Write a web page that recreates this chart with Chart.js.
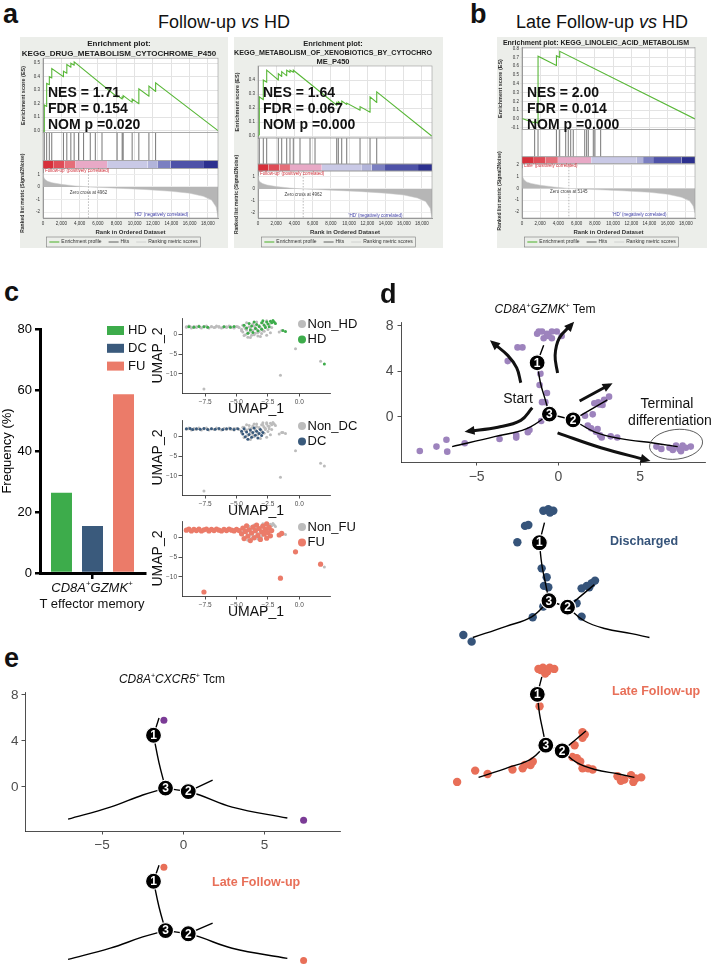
<!DOCTYPE html>
<html>
<head>
<meta charset="utf-8">
<script src="https://cdn.jsdelivr.net/npm/chart.js@4.4.1/dist/chart.umd.min.js"></script>
<style>
  body { margin:0; width:720px; height:974px; position:relative; overflow:hidden; background:#fff;
         font-family:"Liberation Sans", Arial, Helvetica, sans-serif; color:#111; }
  canvas { position:absolute; }
  .t { position:absolute; white-space:nowrap; }
  .c { transform:translateX(-50%); }
  .t sup { font-size:0.6em; line-height:0; vertical-align:0.75em; font-style:normal; }
</style>
</head>
<body>
<script>
// ---------- a / b : GSEA enrichment plots ----------
// running enrichment score, [rank, ES]
const esDrug = [[0,0],[143,-0.005],[145,0.19],[400,0.18],[402,0.35],[690,0.34],[692,0.40],[955,0.39],[957,0.46],
  [2230,0.40],[2232,0.44],[2600,0.425],[2602,0.49],[3040,0.47],[3042,0.50],[3400,0.485],[3402,0.51],
  [8090,0.25],[8092,0.26],[8640,0.235],[8642,0.25],[8750,0.245],[8752,0.26],[9730,0.21],[9732,0.235],
  [10460,0.2],[10462,0.31],[11560,0.255],[11562,0.33],[12290,0.29],[12292,0.355],[19100,0]];
const hitsDrug = [143,400,690,955,2230,2600,3040,3400,3880,4430,5160,5710,6440,8090,8640,8750,9730,10460,11560,12290];
const esXeno = [[0,0],[140,0.01],[143,0.28],[580,0.26],[582,0.40],[950,0.385],[955,0.47],[2225,0.40],[2229,0.445],
  [2600,0.425],[2602,0.46],[3150,0.43],[3151,0.47],[3510,0.455],[3514,0.47],[3876,0.455],[3880,0.47],
  [8641,0.22],[8645,0.24],[8817,0.23],[8820,0.245],[9190,0.225],[9195,0.25],[9739,0.225],[9742,0.235],
  [11200,0.185],[11203,0.21],[12298,0.17],[12300,0.28],[13030,0.24],[13033,0.316],[19070,0]];
const hitsXeno = [143,582,955,2229,2602,3151,3514,3876,4612,5710,6259,8641,8817,9190,9739,11200,12298,13033];
const esLino = [[0,0.005],[1390,-0.045],[1392,-0.03],[1760,-0.05],[1762,0.715],[3780,0.61],[3782,0.72],
  [4140,0.70],[4142,0.77],[19000,0]];
const hitsLino = [1390,1760,3780,4140,4800,5080,5350,5630,6890,7100,7280,7830,8010,8640];
// ranked list metric (Signal2Noise), [rank, value]
const rankFU = [[0,1.1],[60,0.8],[200,0.6],[500,0.45],[1000,0.33],[2000,0.2],[3500,0.08],[4962,0],[8000,-0.1],
  [11000,-0.2],[14000,-0.35],[16000,-0.5],[17500,-0.75],[18400,-1.05],[18900,-1.6],[19100,-2.45]];
const rankLate = [[0,1.7],[60,1.0],[200,0.75],[500,0.55],[1000,0.42],[2000,0.27],[3500,0.12],[5145,0],[8000,-0.1],
  [11000,-0.2],[14000,-0.33],[16000,-0.5],[17500,-0.75],[18400,-1.05],[18800,-1.5],[19000,-2.1]];
// colour bar segment edges (rank)
const edgesFU = [0,1170,2340,3510,7000,11400,12480,13940,17570,19100];
const edgesLate = [0,1300,2600,3940,7600,12560,13300,14400,17500,19000];
// tick labels
const rankTicks = [0,2000,4000,6000,8000,10000,12000,14000,16000,18000];
const esTicksDrug = [0,0.1,0.2,0.3,0.4,0.5];
const esTicksXeno = [0,0.1,0.2,0.3,0.4];
const esTicksLino = [-0.1,0,0.1,0.2,0.3,0.4,0.5,0.6,0.7,0.8];
const metricTicksFU = [-2,-1,0,1];
const metricTicksLate = [-2,-1,0,1,2];
const statsDrug = ['NES = 1.71','FDR = 0.154','NOM p =0.020'];
const statsXeno = ['NES = 1.64','FDR = 0.067','NOM p =0.000'];
const statsLino = ['NES = 2.00','FDR = 0.014','NOM p =0.000'];

// ---------- c ----------
const groups = ['HD','DC','FU'];
const temFreq = [26.3, 15.4, 58.6];
const umapHD = [[-8.8,1.8],[-8.4,1.7],[-8.0,1.9],[-7.6,1.8],[-7.3,1.7],[-6.0,1.8],[-5.5,1.7],[-5.2,1.9],[-4.4,2.2],
  [-4.2,1.5],[-4.0,2.6],[-3.9,1.0],[-3.8,2.0],[-3.6,3.0],[-3.5,1.4],[-3.4,2.4],[-3.3,0.8],[-3.2,1.9],[-3.0,2.8],
  [-3.0,1.2],[-2.9,3.3],[-2.8,2.2],[-2.7,1.6],[-2.6,3.0],[-2.5,2.5],[-2.4,1.8],[-2.3,3.2],[-2.2,2.8],[-2.1,3.4],
  [-2.0,3.0],[-1.9,2.6],[-3.7,0.4],[-4.1,0.2],[-1.3,0.9],[-1.1,0.6],[2.0,-7.5]];
const umapDC = [[-9.0,1.8],[-8.7,1.9],[-8.5,1.6],[-8.2,1.8],[-7.9,1.7],[-7.6,1.9],[-7.3,1.6],[-7.0,1.8],[-6.7,1.7],
  [-6.4,1.9],[-6.1,1.6],[-5.8,1.8],[-5.5,1.9],[-5.2,1.6],[-4.9,1.8],[-4.6,1.2],[-4.5,0.5],[-4.4,1.8],[-4.3,-0.2],
  [-4.2,1.0],[-4.1,-0.8],[-4.0,0.4],[-3.9,1.5],[-3.8,-0.3],[-3.7,0.9],[-3.6,2.0],[-3.5,0.2],[-3.4,1.2],[-3.3,-0.5],
  [-3.2,0.6],[-3.1,1.6],[-3.0,0.1],[-2.9,0.9]];
const umapFU = [[-9.0,1.7],[-8.8,2.0],[-8.6,1.5],[-8.4,1.9],[-8.2,1.6],[-8.0,2.0],[-7.8,1.5],[-7.6,1.8],[-7.4,2.0],
  [-7.2,1.5],[-7.0,1.9],[-6.8,1.6],[-6.6,2.0],[-6.4,1.7],[-6.2,1.5],[-6.0,1.9],[-5.8,1.6],[-5.6,2.0],[-5.4,1.7],
  [-5.2,1.5],[-5.0,1.9],[-4.8,1.6],[-4.6,0.8],[-4.5,2.2],[-4.4,-0.4],[-4.3,1.4],[-4.2,2.8],[-4.1,0.2],[-4.0,1.8],
  [-3.9,-0.9],[-3.8,1.0],[-3.7,2.5],[-3.6,-0.2],[-3.5,1.6],[-3.4,3.0],[-3.3,0.4],[-3.2,2.1],[-3.1,-0.6],[-3.0,1.3],
  [-2.9,2.7],[-2.8,0.7],[-2.7,1.9],[-2.6,3.3],[-2.5,1.1],[-2.4,2.4],[-2.3,0.3],[-2.2,1.6],[-2.6,-0.3],[-1.6,0.5],
  [-1.4,0.9],[-7.6,-13.75],[-1.5,-10.3],[-0.3,-3.7],[1.7,-6.8]];

// ---------- d : CD8A+GZMK+ Tem trajectory ----------
const nodeLabels = ['1','3','2'];
const temNodes = [[-1.3,4.75],[-0.55,0.25],[0.9,-0.25]];
const temBranches = [
  [[-0.9,6.3],[-1.3,4.75]],
  [[-1.3,4.75],[-1.1,3.0],[-0.8,1.5],[-0.55,0.25]],
  [[-0.55,0.25],[-1.9,-1.0],[-3.9,-1.73],[-6.5,-2.6]],
  [[-0.55,0.25],[0.9,-0.25]],
  [[0.9,-0.25],[3.0,1.5]],
  [[0.9,-0.25],[2.2,-1.3],[3.8,-1.9],[5.9,-2.3],[7.3,-2.6]]];
const temArrows = [
  [[-2.3,3.0],[-2.55,4.3],[-3.1,5.4],[-4.0,6.5]],
  [[-0.05,3.85],[-0.2,5.4],[0.05,6.9],[0.8,8.1]],
  [[1.3,1.4],[3.1,2.8]],
  [[-1.6,0.8],[-2.3,-0.3],[-3.7,-0.9],[-5.5,-1.25]],
  [[-0.05,-1.4],[2.6,-2.7],[5.4,-3.77]]];
const temCells = [[-1.3,7.3],[-1.0,7.5],[-0.7,7.3],[-0.4,7.5],[-0.4,6.9],[-0.9,6.9],[0.2,7.1],[-0.1,7.5],[-1.2,7.5],
  [-0.6,7.1],[-2.5,6.1],[-2.2,6.1],[-3.1,4.9],[-1.1,3.8],[-1.15,2.8],[-0.7,2.1],[-1.0,1.3],[-0.8,1.3],[-1.05,-0.35],
  [-1.77,-1.14],[-1.87,-1.34],[-2.58,-1.58],[-2.58,-1.81],[-3.6,-1.93],[-5.73,-2.3],[-6.85,-2.0],[-6.8,-3.04],
  [-7.46,-2.6],[-8.48,-2.98],[1.63,0.11],[2.1,0.23],[2.2,1.2],[2.44,1.29],[2.7,1.05],[2.8,1.5],[3.1,1.78],[2.5,1.1],
  [1.8,-0.75],[2.0,-1.0],[2.4,-1.05],[2.3,-1.3],[2.55,-1.6],[2.65,-1.8],[3.2,-1.7],[3.6,-1.8],
  [6.0,-2.6],[6.3,-2.8],[6.8,-2.7],[7.2,-2.5],[7.4,-2.8],[7.5,-3.0],[7.8,-2.7],[8.1,-2.6],[7.0,-2.9],[7.6,-2.5]];
const dischCells = [[-0.99,7.23],[-0.6,7.34],[-0.21,7.23],[-0.47,7.08],[-2.42,6.05],[-2.16,6.12],[-3.02,4.78],
  [-1.12,2.76],[-0.73,2.07],[-0.94,1.4],[-0.6,1.29],[-0.99,-0.2],[-1.82,-1.03],[-7.24,-2.4],[-6.59,-2.92],
  [2.0,1.21],[2.4,1.4],[2.79,1.6],[3.05,1.81],[2.6,1.3],[1.61,0.05],[2.0,-0.98]];
const lateCells = [[-1.2,7.0],[-0.8,7.1],[-0.4,6.8],[0.2,7.0],[-0.6,6.6],[-1.0,6.9],[-0.2,7.1],[-1.1,3.7],
  [-1.7,-1.2],[-1.9,-1.5],[-2.6,-1.8],[-2.4,-1.5],[-3.5,-1.9],[-5.7,-2.3],[-6.8,-2.0],[-8.4,-3.0],
  [2.7,1.4],[2.9,1.2],[2.7,0.9],[2.0,0.25],[1.8,-0.8],[2.2,-0.9],[2.5,-1.2],[2.7,-1.8],[3.2,-1.8],[3.6,-1.9],
  [5.8,-2.5],[6.4,-2.8],[7.0,-2.4],[7.4,-2.7],[7.9,-2.6],[7.2,-3.0],[6.1,-2.9]];

// ---------- e : CD8A+CXCR5+ Tcm trajectory ----------
const tcmNodes = [[-1.84,4.5],[-1.1,-0.1],[0.3,-0.4]];
const tcmBranches = [
  [[-1.5,6.0],[-1.84,4.5]],
  [[-1.84,4.5],[-1.5,2.1],[-1.1,-0.1]],
  [[-1.1,-0.1],[-2.5,-0.7],[-4.5,-1.75],[-7.1,-2.8]],
  [[-1.1,-0.1],[0.3,-0.4]],
  [[0.3,-0.4],[1.8,0.6]],
  [[0.3,-0.4],[1.0,-0.7],[3.0,-1.75],[6.4,-2.7]]];
const tcmCells = [[-1.2,5.8],[7.4,-2.9]];
const tcmLateCells = [[-1.2,5.8],[7.4,-2.9]];

// ---------- styles ----------
const FONT = '"Liberation Sans", Arial, Helvetica, sans-serif';
const heat = ['#d7303b','#df4c57','#e56e79','#e8a9c6','#c9c9e6','#b2b4da','#7b7fc1','#4e52a8','#2c308f'];
const groupColors = ['#3dac4b','#3a5a7c','#eb7b69'];
const purple = '#9d83bd', navy = '#36547a', coral = '#e86f58', tcmPurple = '#7b3b96';

Chart.defaults.font.family = FONT;
Chart.defaults.animation = false;
Chart.defaults.responsive = false;
Chart.defaults.events = [];
Chart.defaults.plugins.legend.display = false;
Chart.defaults.plugins.tooltip.enabled = false;

function canvasAt(left, top, w, h) {
  const c = document.createElement('canvas');
  c.width = w; c.height = h;
  c.style.left = left + 'px'; c.style.top = top + 'px';
  document.body.appendChild(c);
  return c;
}

function text(html, x, base, size, css, center) {
  const d = document.createElement('div');
  d.className = 't' + (center ? ' c' : '');
  d.innerHTML = html;
  d.style.cssText = 'left:' + x + 'px;top:' + (base - 0.85 * size) + 'px;font-size:' + size + 'px;line-height:' + size + 'px;' + (css || '');
  document.body.appendChild(d);
}

const neg = v => String(v).replace('-', '\u2212');
const fixTicks = vals => s => { s.ticks = vals.map(v => ({ value: v })); };

// legend drawn from the dataset labels
const keys = {
  id: 'keys',
  afterDraw(chart, args, o) {
    const ctx = chart.ctx;
    const items = chart.data.datasets.filter(d => d.label);
    ctx.save();
    ctx.font = o.font + 'px ' + FONT;
    ctx.textBaseline = 'middle';
    ctx.textAlign = 'left';
    const mark = (d, x, y) => {
      if (o.shape === 'line') {
        ctx.strokeStyle = d.borderColor; ctx.lineWidth = Math.max(d.borderWidth, 0.8);
        ctx.beginPath(); ctx.moveTo(x, y); ctx.lineTo(x + o.size, y); ctx.stroke();
      } else if (o.shape === 'rect') {
        ctx.fillStyle = d.backgroundColor; ctx.fillRect(x, y - o.h / 2, o.size, o.h);
      } else {
        ctx.fillStyle = d.backgroundColor; ctx.beginPath(); ctx.arc(x, y, o.size, 0, Math.PI * 2); ctx.fill();
      }
    };
    if (o.dir === 'row') {
      const widths = items.map(d => o.size + 2 + ctx.measureText(d.label).width);
      const total = widths.reduce((a, b) => a + b, 0) + o.gap * (items.length - 1);
      let x = o.x - total / 2;
      ctx.strokeStyle = '#7a7a7a'; ctx.lineWidth = 0.6;
      ctx.strokeRect(x - 3, o.y - 5, total + 6, 10);
      items.forEach((d, i) => {
        mark(d, x, o.y);
        ctx.fillStyle = '#333';
        ctx.fillText(d.label, x + o.size + 2, o.y);
        x += widths[i] + o.gap;
      });
    } else {
      items.forEach((d, i) => {
        const y = o.y + i * o.gap;
        mark(d, o.x, y);
        ctx.fillStyle = '#111';
        ctx.fillText(d.label, o.x + (o.shape === 'rect' ? o.size + 4 : o.size + 1.5), y);
      });
    }
    ctx.restore();
  }
};

const gseaDeco = {
  id: 'gseaDeco',
  beforeDraw(chart) {
    const { ctx, width, height, chartArea: a } = chart;
    ctx.save();
    ctx.fillStyle = '#eceeea'; ctx.fillRect(0, 0, width, height);
    ctx.fillStyle = '#fff'; ctx.fillRect(a.left, a.top, a.right - a.left, a.bottom - a.top);
    ctx.restore();
  },
  afterDraw(chart, args, o) {
    const { ctx, chartArea: a, scales } = chart;
    ctx.save();
    ctx.strokeStyle = '#9a9a9a'; ctx.lineWidth = 0.6;
    ['yES', 'yHit', 'yBar', 'yRank'].forEach(id => {
      const s = scales[id];
      ctx.strokeRect(a.left, s.top, a.right - a.left, s.bottom - s.top);
    });
    ctx.font = '4.5px ' + FONT; ctx.textBaseline = 'middle';
    (o.notes || []).forEach(n => {
      ctx.fillStyle = n.c; ctx.textAlign = n.al;
      ctx.fillText(n.t, scales.x.getPixelForValue(n.x), scales.yRank.getPixelForValue(n.y));
    });
    ctx.restore();
  }
};

const traj = {
  id: 'traj',
  afterDatasetsDraw(chart, args, o) {
    const { ctx, scales: { x, y } } = chart;
    ctx.save();
    chart.data.datasets.forEach((d, i) => {
      const pts = chart.getDatasetMeta(i).data;
      if (d.arrow) {
        const p = pts[pts.length - 1];
        let q = pts[pts.length - 2];
        if (p.cp1x !== undefined && (Math.abs(p.cp1x - p.x) + Math.abs(p.cp1y - p.y)) > 0.5) q = { x: p.cp1x, y: p.cp1y };
        const ang = Math.atan2(p.y - q.y, p.x - q.x);
        const ux = Math.cos(ang), uy = Math.sin(ang);
        const tx = p.x + ux * 4, ty = p.y + uy * 4, bx = p.x - ux * 6, by = p.y - uy * 6;
        ctx.fillStyle = '#111';
        ctx.beginPath();
        ctx.moveTo(tx, ty);
        ctx.lineTo(bx - uy * 4.5, by + ux * 4.5);
        ctx.lineTo(bx + uy * 4.5, by - ux * 4.5);
        ctx.closePath(); ctx.fill();
      }
      if (d.nodeLabels) {
        ctx.fillStyle = '#fff'; ctx.font = 'bold 12px ' + FONT;
        ctx.textAlign = 'center'; ctx.textBaseline = 'middle';
        pts.forEach((p, j) => ctx.fillText(d.nodeLabels[j], p.x, p.y + 0.5));
      }
    });
    if (o.ring) {
      const r = o.ring;
      const cx = x.getPixelForValue(r.x), cy = y.getPixelForValue(r.y);
      ctx.strokeStyle = '#333'; ctx.lineWidth = 0.8;
      ctx.beginPath();
      ctx.ellipse(cx, cy, Math.abs(x.getPixelForValue(r.x + r.rx) - cx), Math.abs(y.getPixelForValue(r.y + r.ry) - cy), r.rot, 0, Math.PI * 2);
      ctx.stroke();
    }
    ctx.restore();
  }
};

function gsea(left, top, w, h, o) {
  const ds = [
    { label: 'Enrichment profile', data: o.es, yAxisID: 'yES', borderColor: '#58b737', borderWidth: 1.1 },
    { label: 'Hits', data: o.hits.flatMap(r => [[r, 0], [r, 1], [r, null]]), yAxisID: 'yHit', borderColor: '#3c3c3c', borderWidth: 0.7 },
    { label: 'Ranking metric scores', data: o.rank, yAxisID: 'yRank', borderColor: '#c9c9c9', backgroundColor: '#b6b6b6', fill: 'origin', borderWidth: 0.5 },
    { data: [[o.zero, o.rk[1]], [o.zero, o.rk[0]]], yAxisID: 'yRank', borderColor: '#8c8c8c', borderWidth: 0.6, borderDash: [1.5, 1.5] }
  ];
  o.edges.slice(1).forEach((e, i) => ds.push({ data: [[o.edges[i], 1], [e, 1]], yAxisID: 'yBar', fill: 'origin', backgroundColor: heat[i], borderWidth: 0 }));
  const fitW = s => { s.width = o.yw; };
  const small = { size: 4.5 };
  const hidden = (wt, lw) => ({ type: 'linear', position: 'left', stack: 'g', stackWeight: wt, weight: lw, min: 0, max: 1,
    ticks: { display: false }, grid: { display: false }, border: { display: false }, afterFit: fitW });
  new Chart(canvasAt(left, top, w, h), {
    type: 'line',
    data: { datasets: ds },
    options: {
      elements: { point: { radius: 0 }, line: { tension: 0 } },
      layout: { padding: { right: o.padR, bottom: 12 } },
      plugins: {
        title: { display: true, text: o.title, font: { size: o.tsize, weight: 'bold' }, color: '#222', padding: { top: 2, bottom: 0 } },
        keys: { x: o.keyX, y: 205, dir: 'row', shape: 'line', size: 10, font: 5, gap: 7 },
        gseaDeco: { notes: o.notes }
      },
      scales: {
        x: { type: 'linear', min: 0, max: o.xMax,
          ticks: { font: small, color: '#333', maxRotation: 0, autoSkip: false, padding: 1,
            callback: v => v.toLocaleString('en-US') },
          afterBuildTicks: fixTicks(rankTicks),
          grid: { color: '#e3e3e3', tickLength: 2 }, border: { color: '#999' },
          title: { display: true, text: 'Rank in Ordered Dataset', font: { size: 6, weight: 'bold' }, color: '#333', padding: 0 },
          afterFit: s => { s.height = 18; } },
        yRank: { type: 'linear', position: 'left', stack: 'g', stackWeight: o.wt[3], weight: 1, min: o.rk[0], max: o.rk[1],
          ticks: { font: small, color: '#333', autoSkip: false, padding: 1 },
          afterBuildTicks: fixTicks(o.rkTicks),
          grid: { color: '#ececec', tickLength: 2 }, border: { color: '#999' },
          title: { display: true, text: 'Ranked list metric (Signal2Noise)', font: { size: 5, weight: 'bold' }, color: '#333', padding: 0 },
          afterFit: fitW },
        yBar: hidden(o.wt[2], 2),
        yHit: hidden(o.wt[1], 3),
        yES: { type: 'linear', position: 'left', stack: 'g', stackWeight: o.wt[0], weight: 4, min: o.esR[0], max: o.esR[1],
          ticks: { font: small, color: '#333', autoSkip: false, padding: 1, callback: v => v.toFixed(1) },
          afterBuildTicks: fixTicks(o.esTicks),
          grid: { color: '#e3e3e3', tickLength: 2 }, border: { color: '#999' },
          title: { display: true, text: 'Enrichment score (ES)', font: { size: 5.5, weight: 'bold' }, color: '#333', padding: 0 },
          afterFit: fitW }
      }
    },
    plugins: [gseaDeco, keys]
  });
}

function ggAxis(min, max, step, size, cb, fit, pad, title) {
  const ax = { type: 'linear', min, max,
    border: { color: '#222', width: 0.8 },
    grid: { drawOnChartArea: false, tickLength: 3.5, color: '#222', lineWidth: 0.8 },
    ticks: { stepSize: step, includeBounds: false, color: '#4d4d4d', font: { size }, padding: pad, callback: cb, maxRotation: 0, autoSkip: false },
    afterFit: s => { if (s.isHorizontal()) s.height = fit; else s.width = fit; } };
  if (title) ax.title = { display: true, text: title, color: '#111', font: { size: 14 }, padding: 0 };
  return ax;
}

function umap(top, names, mine, others, color, r) {
  new Chart(canvasAt(150, top, 210, 108), {
    type: 'scatter',
    data: { datasets: [
      { label: names[0], data: others, backgroundColor: '#bcbcbc', pointRadius: 1.5, borderWidth: 0, order: 1, clip: false },
      { label: names[1], data: mine, backgroundColor: color, pointRadius: r, borderWidth: 0, order: 0, clip: false }
    ] },
    options: {
      layout: { padding: { top: 8, right: 30 } },
      scales: {
        x: ggAxis(-9.35, 2.45, 2.5, 6.5, v => neg(v.toFixed(1)), 25, 1.5, 'UMAP_1'),
        y: ggAxis(-14.75, 4, 5, 6.5, v => neg(v), 32, 1.5, 'UMAP_2')
      },
      plugins: { keys: { x: 152, y: 14, dir: 'col', gap: 15.5, shape: 'circle', size: 4, font: 13 } }
    },
    plugins: [keys]
  });
}

function trajectory(c, o) {
  const ds = [{ data: o.nodes, pointRadius: 8, backgroundColor: '#000', borderColor: '#fff', borderWidth: 1.2, nodeLabels, order: 0, clip: false }];
  (o.arrows || []).forEach(a => ds.push({ data: a, showLine: true, borderColor: '#111', borderWidth: 3, pointRadius: 0, tension: 0.4, arrow: true, order: 1, clip: false }));
  o.branches.forEach(b => ds.push({ data: b, showLine: true, borderColor: '#000', borderWidth: 1.4, pointRadius: 0, tension: 0.4, order: 2, clip: false }));
  ds.push({ data: o.cells, pointRadius: o.r, backgroundColor: o.color, borderWidth: 0, order: 3, clip: false });
  new Chart(c, {
    type: 'scatter',
    data: { datasets: ds },
    options: { layout: { padding: o.pad }, scales: o.scales, plugins: { traj: { ring: o.ring } } },
    plugins: [traj]
  });
}

const bare = (x0, x1, y0, y1) => ({ x: { type: 'linear', min: x0, max: x1, display: false }, y: { type: 'linear', min: y0, max: y1, display: false } });

// ---------- panel a / b ----------
gsea(20, 37, 208, 211, { title: ['Enrichment plot:', 'KEGG_DRUG_METABOLISM_CYTOCHROME_P450'], tsize: 8,
  es: esDrug, hits: hitsDrug, rank: rankFU, edges: edgesFU, zero: 4962, xMax: 19100, yw: 23, padR: 10,
  esR: [-0.0147, 0.537], rk: [-2.47, 1.47], wt: [75, 28, 8, 50], keyX: 103.5,
  esTicks: esTicksDrug, rkTicks: metricTicksFU,
  notes: [{ t: "'Follow-up' (positively correlated)", x: 120, y: 1.3, c: '#d0303a', al: 'left' },
          { t: 'Zero cross at 4962', x: 4962, y: -0.45, c: '#444', al: 'center' },
          { t: "'HD' (negatively correlated)", x: 12900, y: -2.2, c: '#4040a8', al: 'center' }] });
gsea(234, 37, 209, 211, { title: ['Enrichment plot:', 'KEGG_METABOLISM_OF_XENOBIOTICS_BY_CYTOCHRO', 'ME_P450'], tsize: 7.5,
  es: esXeno, hits: hitsXeno, rank: rankFU, edges: edgesFU, zero: 4962, xMax: 19100, yw: 24, padR: 11,
  esR: [-0.014, 0.5], rk: [-2.42, 1.5], wt: [72, 26, 7, 47], keyX: 104.5,
  esTicks: esTicksXeno, rkTicks: metricTicksFU,
  notes: [{ t: "'Follow-up' (positively correlated)", x: 120, y: 1.3, c: '#d0303a', al: 'left' },
          { t: 'Zero cross at 4962', x: 4962, y: -0.45, c: '#444', al: 'center' },
          { t: "'HD' (negatively correlated)", x: 12900, y: -2.2, c: '#4040a8', al: 'center' }] });
gsea(497, 37, 210, 211, { title: 'Enrichment plot: KEGG_LINOLEIC_ACID_METABOLISM', tsize: 7,
  es: esLino, hits: hitsLino, rank: rankLate, edges: edgesLate, zero: 5145, xMax: 19000, yw: 25, padR: 12,
  esR: [-0.123, 0.815], rk: [-2.51, 2.085], wt: [82, 27, 7, 54], keyX: 104.5,
  esTicks: esTicksLino, rkTicks: metricTicksLate,
  notes: [{ t: "'Late' (positively correlated)", x: 120, y: 1.9, c: '#d0303a', al: 'left' },
          { t: 'Zero cross at 5145', x: 5145, y: -0.3, c: '#444', al: 'center' },
          { t: "'HD' (negatively correlated)", x: 12900, y: -2.2, c: '#4040a8', al: 'center' }] });

// ---------- panel c ----------
new Chart(canvasAt(0, 310, 150, 280), {
  type: 'bar',
  data: { labels: [''], datasets: groups.map((g, i) => ({ label: g, data: [temFreq[i]], backgroundColor: groupColors[i],
    barPercentage: 0.677, categoryPercentage: 0.886 })) },
  options: {
    layout: { padding: { top: 19, right: 5 } },
    scales: {
      x: { grid: { offset: false, drawOnChartArea: false, tickLength: 6, lineWidth: 2.5, color: '#000' },
        border: { color: '#000', width: 3 }, ticks: { font: { size: 2 } }, afterFit: s => { s.height = 17; } },
      y: { min: 0, max: 80, ticks: { stepSize: 20, color: '#000', font: { size: 13 }, padding: 3 },
        grid: { drawOnChartArea: false, tickLength: 5, lineWidth: 2.5, color: '#000' },
        border: { color: '#000', width: 3 },
        title: { display: true, text: 'Frequency (%)', color: '#000', font: { size: 13 }, padding: 0 },
        afterFit: s => { s.width = 40; } }
    },
    plugins: { keys: { x: 107, y: 20.5, dir: 'col', gap: 17.8, shape: 'rect', size: 17, h: 9, font: 13 } }
  },
  plugins: [keys]
});
umap(310, ['Non_HD', 'HD'], umapHD, umapDC.concat(umapFU), groupColors[0], 1.5);
umap(412, ['Non_DC', 'DC'], umapDC, umapHD.concat(umapFU), groupColors[1], 1.5);
umap(513, ['Non_FU', 'FU'], umapFU, umapHD.concat(umapDC), groupColors[2], 2.6);

// ---------- panel d ----------
trajectory(canvasAt(365, 300, 350, 190), { nodes: temNodes, branches: temBranches, arrows: temArrows, cells: temCells,
  color: purple, r: 3.3, pad: { top: 22, right: 8 },
  scales: { x: ggAxis(-9.63, 9.02, 5, 14, v => neg(v), 28, 3), y: ggAxis(-3.95, 8.33, 4, 14, v => neg(v), 36, 4) },
  ring: { x: 7.2, y: -2.4, rx: 1.63, ry: 1.3, rot: -0.12 } });
trajectory(canvasAt(440, 491, 232, 168), { nodes: temNodes, branches: temBranches, cells: dischCells, color: navy, r: 4.2,
  pad: { left: 20, right: 20, top: 10, bottom: 10 }, scales: bare(-7.5, 7.5, -3.49, 7.98) });
trajectory(canvasAt(430, 651, 238, 146), { nodes: temNodes, branches: temBranches, cells: lateCells, color: coral, r: 4.2,
  pad: { left: 20, right: 20, top: 10, bottom: 10 }, scales: bare(-9.03, 8.5, -3.45, 7.7) });

// ---------- panel e ----------
trajectory(canvasAt(0, 680, 350, 180), { nodes: tcmNodes, branches: tcmBranches, cells: tcmCells, color: tcmPurple, r: 3.5,
  pad: { top: 12, right: 8 },
  scales: { x: ggAxis(-9.75, 9.69, 5, 13.5, v => neg(v), 29, 3), y: ggAxis(-3.83, 8.26, 4, 13.5, v => neg(v), 25, 3) } });
trajectory(canvasAt(0, 829, 350, 145), { nodes: tcmNodes, branches: tcmBranches, cells: tcmLateCells, color: coral, r: 3.5,
  pad: { left: 25, right: 8, top: 12, bottom: 0 }, scales: bare(-9.75, 9.69, -3.3, 8.26) });

// ---------- text ----------
const B = 'font-weight:bold;';
text('a', 3, 24, 27, B);
text('Follow-up <i>vs</i> HD', 224, 28, 18, '', true);
text('b', 470, 24, 27, B);
text('Late Follow-up <i>vs</i> HD', 602, 28, 18, '', true);
[[48, statsDrug], [263, statsXeno], [527, statsLino]].forEach(([x, lines]) =>
  lines.forEach((l, i) => text(l, x, 97 + i * 15.8, 14, B)));
text('c', 4, 302, 27, B);
text('<i>CD8A</i><sup>+</sup><i>GZMK</i><sup>+</sup>', 92, 592, 13, '', true);
text('T effector memory', 92, 608, 13, '', true);
text('d', 380, 304, 27, B);
text('<i>CD8A</i><sup>+</sup><i>GZMK</i><sup>+</sup> Tem', 545, 313, 12, '', true);
text('Start', 518, 403, 14, '', true);
text('Terminal', 667, 408, 14, '', true);
text('differentiation', 670, 425, 14, '', true);
text('Discharged', 610, 546, 12.5, B + 'color:' + navy);
text('Late Follow-up', 612, 696, 12.5, B + 'color:' + coral);
text('e', 4, 668, 27, B);
text('<i>CD8A</i><sup>+</sup><i>CXCR5</i><sup>+</sup> Tcm', 172, 683, 12, '', true);
text('Late Follow-up', 212, 887, 12.5, B + 'color:' + coral);
</script>
</body>
</html>
